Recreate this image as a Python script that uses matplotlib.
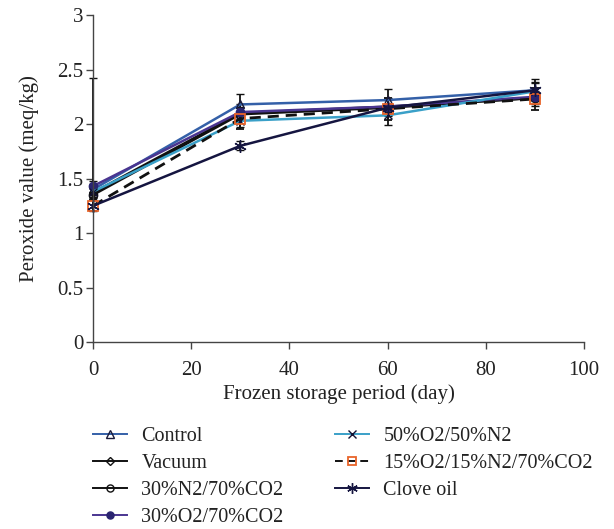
import matplotlib
matplotlib.use("Agg")
import matplotlib.pyplot as plt
from matplotlib.lines import Line2D

plt.rcParams['font.family'] = ['Liberation Serif', 'DejaVu Serif']

days = [0, 30, 60, 90]
series_names = ["Control", "Vacuum", "30%N2/70%CO2", "30%O2/70%CO2",
                "50%O2/50%N2", "15%O2/15%N2/70%CO2", "Clove oil"]
control = [1.40, 2.18, 2.22, 2.31]
vacuum = [1.37, 2.10, 2.16, 2.24]
n2_co2 = [1.35, 2.09, 2.15, 2.24]
o2_co2 = [1.43, 2.11, 2.16, 2.25]
o2_n2 = [1.38, 2.03, 2.08, 2.30]
o2_n2_co2 = [1.25, 2.05, 2.14, 2.23]
clove = [1.25, 1.80, 2.15, 2.31]

err_control = [0.05, 0.10, 0.10, 0.08]
err_vacuum_lo = [0.05, 0.06, 0.06, 0.06]
err_vacuum_hi = [1.05, 0.06, 0.06, 0.06]
err_o2_co2 = [0.05, 0.07, 0.08, 0.08]
err_o2_n2 = [0.05, 0.06, 0.09, 0.08]
err_o2_n2_co2 = [0.05, 0.10, 0.10, 0.10]
err_clove = [0.05, 0.04, 0.08, 0.10]

x_ticks = [0, 20, 40, 60, 80, 100]
y_ticks = [0, 0.5, 1, 1.5, 2, 2.5, 3]
y_tick_labels = ["0", "0.5", "1", "1.5", "2", "2.5", "3"]

styles = [
    dict(color='#3460a8', lw=1.8, ls='-', marker='^', ms=6, mfc='none', mec='#1a1a3a', mew=1.0),
    dict(color='#111111', lw=1.8, ls='-', marker='D', ms=4.5, mfc='none', mec='#111111', mew=1.0),
    dict(color='#111111', lw=1.8, ls='-', marker='o', ms=6, mfc='none', mec='#111111', mew=1.0),
    dict(color='#4a3590', lw=1.8, ls='-', marker='o', ms=6, mfc='#2a2470', mec='#2a2470', mew=1.0),
    dict(color='#3aa0c8', lw=1.8, ls='-', marker='x', ms=6, mfc='none', mec='#111133', mew=1.0),
    dict(color='#111111', lw=2.0, ls=(0, (4, 2.5)), marker='s', ms=7, mfc='none', mec='#e8642a', mew=1.3),
    dict(color='#151540', lw=1.8, ls='-', marker=(6, 2, 0), ms=9, mfc='none', mec='#151540', mew=1.0),
]
values = [control, vacuum, n2_co2, o2_co2, o2_n2, o2_n2_co2, clove]
errors = [err_control, [err_vacuum_lo, err_vacuum_hi], None, err_o2_co2,
          err_o2_n2, err_o2_n2_co2, err_clove]

fig = plt.figure(figsize=(6.14, 5.29), dpi=100)
ax = fig.add_axes([0.1515, 0.3535, 0.7995, 0.618])

ekw = dict(ecolor='#111111', elinewidth=1.3, capsize=3, capthick=1.3)

for vals, err, st, name in zip(values, errors, styles, series_names):
    if err is not None:
        cont = ax.errorbar(days, vals, yerr=err, label=name, **st, **ekw)
    else:
        cont = ax.errorbar(days, vals, label=name, **st)
    for c in cont.get_children():
        c.set_clip_on(False)

ax.set_xlim(0, 100)
ax.set_ylim(0, 3)
ax.set_xticks(x_ticks)
ax.set_yticks(y_ticks)
ax.set_yticklabels(y_tick_labels)
for s in ['top', 'right']:
    ax.spines[s].set_visible(False)
for s in ['left', 'bottom']:
    ax.spines[s].set_color('#444444')
    ax.spines[s].set_linewidth(1.0)
ax.tick_params(axis='both', direction='out', length=5, width=1.0, color='#444444',
               labelsize=15, labelcolor='#222222')
ax.tick_params(axis='y', pad=2)
ax.tick_params(axis='x', pad=9)
ax.set_xlabel("Frozen storage period (day)", fontsize=15, color='#222222', labelpad=3)
ax.set_ylabel("Peroxide value (meq/kg)", fontsize=15, color='#222222', labelpad=13)

handles = []
for st in styles:
    hs = dict(st)
    hs['lw'] = 1.4
    hs['ms'] = st['ms'] * 0.85
    handles.append(Line2D([], [], **hs))
leg = fig.legend(handles=handles, labels=series_names, ncol=2, loc='upper left',
                 bbox_to_anchor=(0.1515, 0.193), frameon=False, fontsize=14.5,
                 handlelength=1.7, columnspacing=2.55, labelspacing=0.39,
                 handletextpad=0.7, borderpad=0, borderaxespad=0)
for t in leg.get_texts():
    t.set_color('#222222')

fig.savefig("out.png", dpi=100)
